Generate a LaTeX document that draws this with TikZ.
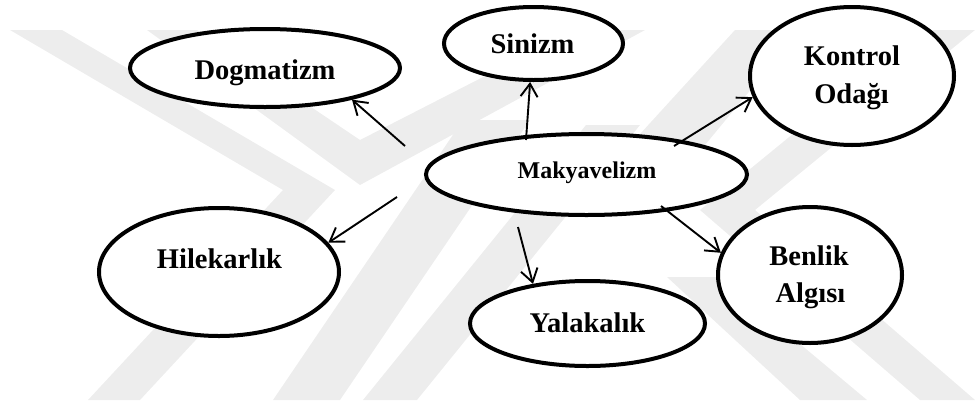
\documentclass[tikz,border=0pt]{standalone}
\usepackage{fontspec}
\setmainfont{Liberation Serif}
\usetikzlibrary{shapes.geometric,arrows.meta}
\begin{document}
\begin{tikzpicture}[x=1pt,y=-1pt,
  ell/.style={ellipse,draw,line width=4pt,fill=white,inner sep=0pt},
  lbl/.style={anchor=base,inner sep=0pt,font=\fontsize{28.5}{34}\selectfont\bfseries},
  lblsm/.style={anchor=base,inner sep=0pt,font=\fontsize{24}{29}\selectfont\bfseries},
  arr/.style={line width=1.9pt,-{Straight Barb[length=13pt,width=17pt,line width=1.9pt]}},
  wm/.style={fill=black!7,draw=none}]
\useasboundingbox (0,0) rectangle (978,405);
% watermark
\fill[wm] (10,30) -- (62,30) -- (335,190) -- (140,400) -- (88,400) -- (283,190) -- cycle;
\fill[wm] (147,30) -- (197,30) -- (360,140) -- (575,30) -- (645,30) -- (360,185) -- cycle;
\fill[wm] (920,30) -- (975,30) -- (755,210) -- (975,400) -- (920,400) -- (700,210) -- cycle;
\fill[wm] (273,400) -- (340,400) -- (530,120) -- (463,120) -- cycle;
\fill[wm] (363,400) -- (417,400) -- (640,125) -- (586,125) -- cycle;
\fill[wm] (630,145) -- (705,145) -- (800,30) -- (735,30) -- cycle;
\fill[wm] (667,277) -- (720,277) -- (867,400) -- (800,400) -- cycle;
% ellipses
\node[ell,minimum width=270pt,minimum height=78pt] (dog) at (265,68) {};
\node[ell,minimum width=240pt,minimum height=128pt] (hile) at (219,272) {};
\node[ell,minimum width=179pt,minimum height=73pt] (sin) at (533.5,43.5) {};
\node[ell,minimum width=204pt,minimum height=138pt] (kon) at (852,76) {};
\node[ell,minimum width=321pt,minimum height=81pt] (mak) at (586.5,174.5) {};
\node[ell,minimum width=184pt,minimum height=136pt] (ben) at (810,275) {};
\node[ell,minimum width=235pt,minimum height=85pt] (yal) at (587.5,323.5) {};
% labels
\node[lbl] (dogT) at (265,79) {Dogmatizm};
\node[lbl] (hileT) at (219.5,268) {Hilekarlık};
\node[lbl] (sinT) at (532.5,53) {Sinizm};
\node[lbl] (konT1) at (852,65) {Kontrol};
\node[lbl] (konT2) at (851.5,103) {Odağı};
\node[lblsm] (makT) at (587,178) {Makyavelizm};
\node[lbl] (benT1) at (809,265) {Benlik};
\node[lbl] (benT2) at (810.5,302) {Algısı};
\node[lbl] (yalT) at (587.5,332) {Yalakalık};
% arrow starts
\coordinate (s1) at (405,146);
\coordinate (s2) at (397,197);
\coordinate (s3) at (526,140);
\coordinate (s4) at (674,146);
\coordinate (s5) at (661,206);
\coordinate (s6) at (518,227);
% arrows
\draw[arr] (s1) -- (dog.-20.8);
\draw[arr] (s2) -- (hile.15.8);
\draw[arr] (s3) -- (sin.-95.3);
\draw[arr] (s4) -- (kon.192.4);
\draw[arr] (s5) -- (ben.166.1);
\draw[arr] (s6) -- (yal.144.1);
\end{tikzpicture}
\end{document}
